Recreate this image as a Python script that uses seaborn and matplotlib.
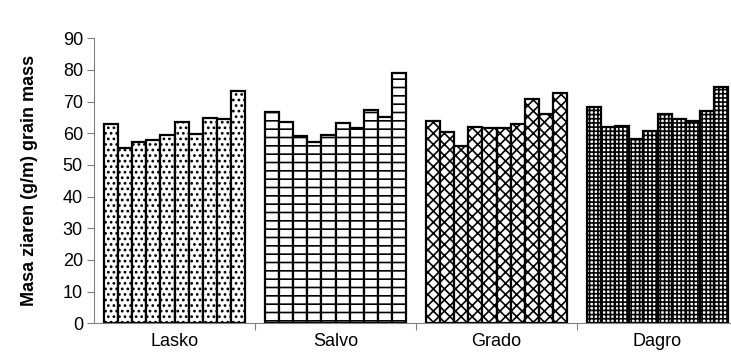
import numpy as np
import pandas as pd
import matplotlib
matplotlib.use("Agg")
import matplotlib.pyplot as plt
import seaborn as sns
from matplotlib.ticker import FixedLocator

odmiany = ["Lasko", "Salvo", "Grado", "Dagro"]
lasko = [62.8, 55.4, 57.3, 57.8, 59.6, 63.5, 59.9, 64.7, 64.4, 73.2]
salvo = [66.7, 63.6, 59.1, 57.1, 59.4, 63.2, 61.8, 67.3, 65.2, 78.9]
grado = [63.8, 60.4, 56.0, 62.0, 61.8, 61.8, 62.8, 70.8, 66.2, 72.7]
dagro = [68.3, 62.0, 62.2, 58.2, 60.7, 66.2, 64.4, 63.9, 67.1, 74.6]
hatches = ["...", "--", "xxx", "++++"]

rows = []
for name, vals in zip(odmiany, [lasko, salvo, grado, dagro]):
    for i, v in enumerate(vals):
        rows.append({"odmiana": name, "nr": i, "masa": v})
df = pd.DataFrame(rows)

sns.set_style("white")
plt.rcParams["font.family"] = ["Liberation Sans", "DejaVu Sans"]
plt.rcParams["hatch.linewidth"] = 1.2

fig = plt.figure(figsize=(7.31, 3.58), dpi=100)
ax = fig.add_axes([94 / 731, 34.7 / 358, 644 / 731, 285 / 358])

sns.barplot(data=df, x="odmiana", y="masa", hue="nr", order=odmiany,
            palette=["white"] * 10, edgecolor="black", linewidth=1.6,
            width=0.875, legend=False, ax=ax, errorbar=None)

for p in ax.patches:
    idx = int(round(p.get_x() + p.get_width() / 2))
    p.set_hatch(hatches[idx])
    p.set_facecolor("white")

ax.set_ylim(0, 90)
ax.set_xlim(-0.5, 3.5)
ax.set_yticks(np.arange(0, 91, 10))
ax.set_xlabel("")
ax.set_ylabel("Masa ziaren (g/m) grain mass", fontsize=13, fontweight="bold",
              labelpad=18, color="black")
ax.tick_params(axis="y", labelsize=13, length=5, width=0.8, color="#808080",
               labelcolor="black", direction="out", left=True, pad=3)
ax.tick_params(axis="x", which="major", labelsize=13, length=0, pad=7, labelcolor="black")
ax.xaxis.set_minor_locator(FixedLocator([0.5, 1.5, 2.5]))
ax.tick_params(axis="x", which="minor", length=5, width=0.8, color="#808080",
               direction="out", bottom=True)

sns.despine(ax=ax, top=True, right=True)
for s in ["left", "bottom"]:
    ax.spines[s].set_color("#808080")
    ax.spines[s].set_linewidth(0.8)

fig.savefig("out.png", dpi=100)
